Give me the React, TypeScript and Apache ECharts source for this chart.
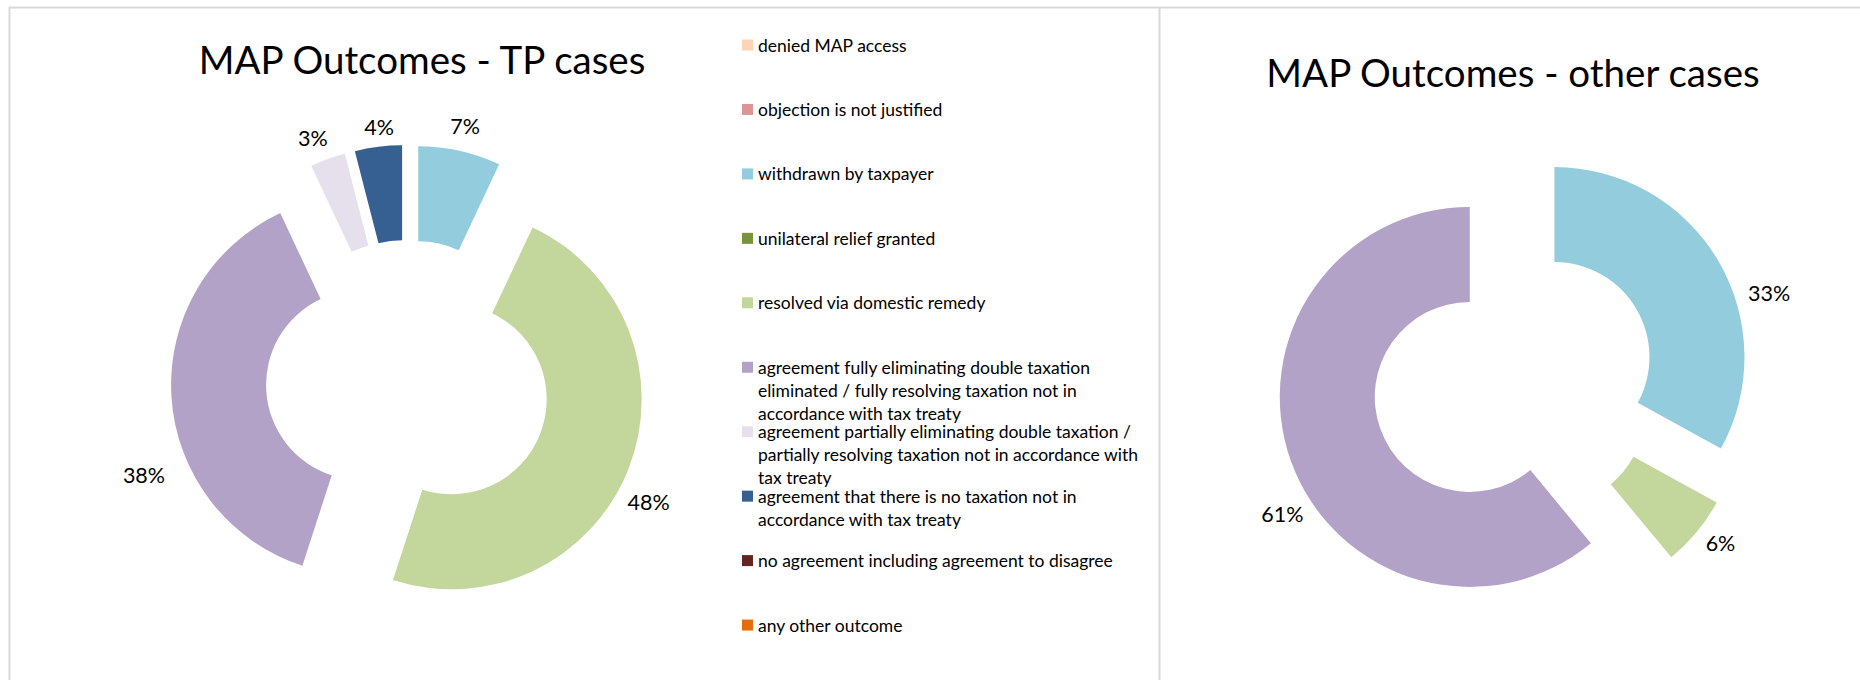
import React, { useEffect, useRef } from "react";
import * as echarts from "echarts";

// ---- data ----
const categories: string[] = [
  "denied MAP access",
  "objection is not justified",
  "withdrawn by taxpayer",
  "unilateral relief granted",
  "resolved via domestic remedy",
  "agreement fully eliminating double taxation eliminated / fully resolving taxation not in accordance with tax treaty",
  "agreement partially eliminating double taxation / partially resolving taxation not in accordance with tax treaty",
  "agreement that there is no taxation not in accordance with tax treaty",
  "no agreement including agreement to disagree",
  "any other outcome",
];
const legendLines: string[][] = [
  ["denied MAP access"],
  ["objection is not justified"],
  ["withdrawn by taxpayer"],
  ["unilateral relief granted"],
  ["resolved via domestic remedy"],
  ["agreement fully eliminating double taxation", "eliminated / fully resolving taxation not in", "accordance with tax treaty"],
  ["agreement partially eliminating double taxation /", "partially resolving taxation not in accordance with", "tax treaty"],
  ["agreement that there is no taxation not in", "accordance with tax treaty"],
  ["no agreement including agreement to disagree"],
  ["any other outcome"],
];
const tpShares: number[] = [0, 0, 7, 0, 48, 38, 3, 4, 0, 0];
const otherShares: number[] = [0, 0, 33, 0, 6, 61, 0, 0, 0, 0];
const titles: string[] = ["MAP Outcomes - TP cases", "MAP Outcomes - other cases"];

// ---- styles ----
const colors: string[] = [
  "#FCD5B5", "#D99694", "#93CDDD", "#77933C", "#C3D69B",
  "#B3A2C7", "#E6E0EC", "#376092", "#632523", "#E46C0A",
];
const FONT = "Lato, 'Open Sans', sans-serif";
const LEGEND_LINE = 23;
const LEGEND_FIRST = 45;
const LEGEND_STEP = 64.45;
const INNER_R = 95;
const OUTER_R = 190;
const EXPLODE = 47;
// label placement (best-fit style): [angle shift from slice middle in degrees, distance from slice centre]
const tpLabelAdjust: Record<number, [number, number]> = {
  2: [0, 215], 4: [5.9, 222], 5: [-18.9, 235], 6: [-1.8, 215], 7: [0.9, 210],
};
const otherLabelAdjust: Record<number, [number, number]> = {
  2: [14, 224], 4: [-1.8, 215.5], 5: [-12.2, 221],
};

const dir = (deg: number): [number, number] => {
  const a = (deg * Math.PI) / 180;
  return [Math.sin(a), -Math.cos(a)];
};

function pieItems(shares: number[], keepZero: boolean) {
  return categories
    .map((name, i) => ({ name, i, value: shares[i] }))
    .filter((d) => keepZero || d.value > 0);
}

const pieBase = (center: [number, number]) => ({
  type: "pie",
  center,
  radius: [INNER_R, OUTER_R],
  startAngle: 90,
  clockwise: true,
  avoidLabelOverlap: false,
  silent: true,
  percentPrecision: 0,
  emphasis: { disabled: true },
  labelLine: { show: false },
});

// exploded doughnut slices
function pieSlices(shares: number[], center: [number, number], keepZero: boolean) {
  const items = pieItems(shares, keepZero);
  return {
    ...pieBase(center),
    selectedMode: "multiple",
    selectedOffset: EXPLODE,
    itemStyle: { borderWidth: 0 },
    label: { show: false },
    data: items.map((d) => ({
      name: d.name,
      value: d.value,
      selected: true,
      itemStyle: { color: colors[d.i] },
    })),
  };
}

// percentage labels of the same doughnut, placed beside each exploded slice
function pieLabels(
  shares: number[],
  center: [number, number],
  keepZero: boolean,
  adjust: Record<number, [number, number]>
) {
  const items = pieItems(shares, keepZero);
  const total = items.reduce((s, d) => s + d.value, 0);
  let acc = 0;
  const labelPos = items.map((d) => {
    const mid = ((acc + d.value / 2) / total) * 360;
    acc += d.value;
    const [shift, dist] = adjust[d.i] || [0, OUTER_R + 25];
    const o = dir(mid);
    const l = dir(mid + shift);
    return {
      x: center[0] + o[0] * EXPLODE + l[0] * dist,
      y: center[1] + o[1] * EXPLODE + l[1] * dist,
    };
  });
  return {
    ...pieBase(center),
    selectedMode: false,
    z: 3,
    itemStyle: { color: "rgba(0,0,0,0)", borderWidth: 0 },
    label: {
      show: true,
      position: "outside",
      fontFamily: FONT,
      fontSize: 21.5,
      color: "#000",
      formatter: (p: any) => (p.value > 0 ? `${p.percent}%` : ""),
    },
    labelLayout: (p: any) => ({
      x: labelPos[p.dataIndex].x,
      y: labelPos[p.dataIndex].y,
      align: "center",
      verticalAlign: "middle",
    }),
    data: items.map((d) => ({ name: d.name, value: d.value })),
  };
}

export default function App() {
  const ref = useRef<HTMLDivElement>(null);
  useEffect(() => {
    if (!ref.current) return;
    const chart = echarts.init(ref.current, undefined, { renderer: "svg" });
    const richLine = {
      fontFamily: FONT,
      fontSize: 17.5,
      lineHeight: LEGEND_LINE,
      color: "#000",
    };
    const legends = categories.map((name, i) => {
      const n = legendLines[i].length;
      const center = LEGEND_FIRST + i * LEGEND_STEP;
      return {
        orient: "vertical",
        left: 742,
        top: center - (2 * n - 1) * (LEGEND_LINE / 2),
        padding: 0,
        itemWidth: 11,
        itemHeight: 11,
        icon: "rect",
        selectedMode: false,
        data: [
          {
            name,
            textStyle: { padding: [(n - 1) * LEGEND_LINE, 0, 0, 0] },
          },
        ],
        formatter: () => legendLines[i].map((l) => `{t|${l}}`).join("\n"),
        textStyle: {
          ...richLine,
          rich: { t: richLine },
        },
      };
    });
    const titleStyle = { fontFamily: FONT, fontSize: 38.5, fontWeight: "normal", color: "#000" };
    chart.setOption({
      animation: false,
      backgroundColor: "#fff",
      title: [
        {
          text: titles[0],
          left: 422,
          top: 59,
          padding: 0,
          textAlign: "center",
          textVerticalAlign: "middle",
          textStyle: titleStyle,
        },
        {
          text: titles[1],
          left: 1513,
          top: 72,
          padding: 0,
          textAlign: "center",
          textVerticalAlign: "middle",
          textStyle: titleStyle,
        },
      ],
      legend: legends,
      graphic: [
        { type: "line", shape: { x1: 9, y1: 7.5, x2: 1860, y2: 7.5 }, style: { stroke: "#D9D9D9", lineWidth: 2 } },
        { type: "line", shape: { x1: 9.5, y1: 7, x2: 9.5, y2: 680 }, style: { stroke: "#D9D9D9", lineWidth: 2 } },
        { type: "line", shape: { x1: 1159.5, y1: 7, x2: 1159.5, y2: 680 }, style: { stroke: "#D9D9D9", lineWidth: 2 } },
      ],
      series: [
        pieSlices(tpShares, [408, 382], true),
        pieSlices(otherShares, [1514, 381], false),
        pieLabels(tpShares, [408, 382], true, tpLabelAdjust),
        pieLabels(otherShares, [1514, 381], false, otherLabelAdjust),
      ],
    });
    return () => chart.dispose();
  }, []);
  return (
    <div
      ref={ref}
      style={{ position: "fixed", left: 0, top: 0, width: 1860, height: 680 }}
    />
  );
}
